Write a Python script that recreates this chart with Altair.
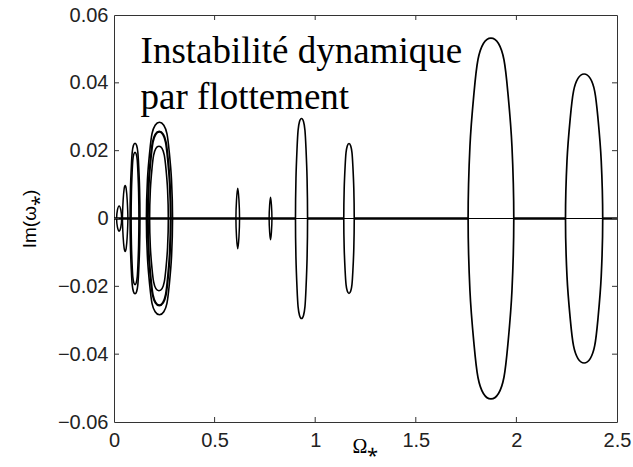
import altair as alt
import pandas as pd

# Upper branch of each instability loop: Omega* values and Im(omega*) values.
# The lower branch is the complex-conjugate mirror image (Im -> -Im).
loop_ids = ["g", "h", "i1", "i2", "j1", "j2", "j3", "e", "f", "c", "d", "a", "b"]
loop_om = [
    [0.013, 0.017, 0.0255, 0.034, 0.038],
    [0.042, 0.0455, 0.0505, 0.0555, 0.0605, 0.0655, 0.069],
    [0.080, 0.0820, 0.0864, 0.0905, 0.0964, 0.1045, 0.1126, 0.1185, 0.1226, 0.1270, 0.129],
    [0.085, 0.0866, 0.0901, 0.0934, 0.0981, 0.1045, 0.1109, 0.1156, 0.1189, 0.1224, 0.124],
    [0.161, 0.1662, 0.1779, 0.1889, 0.2045, 0.226, 0.2475, 0.2631, 0.2741, 0.2858, 0.291],
    [0.168, 0.1726, 0.1828, 0.1925, 0.2062, 0.225, 0.2438, 0.2575, 0.2672, 0.2774, 0.282],
    [0.177, 0.1807, 0.1891, 0.1970, 0.2082, 0.2235, 0.2388, 0.2499, 0.2579, 0.2663, 0.270],
    [0.606, 0.609, 0.615, 0.621, 0.624],
    [0.771, 0.7735, 0.778, 0.7825, 0.785],
    [0.902, 0.9044, 0.9098, 0.9149, 0.9221, 0.932, 0.9419, 0.9491, 0.9542, 0.9596, 0.962],
    [1.142, 1.1441, 1.1488, 1.1532, 1.1594, 1.168, 1.1766, 1.1828, 1.1872, 1.1919, 1.194],
    [1.760, 1.7691, 1.7895, 1.8088, 1.8360, 1.8735, 1.9110, 1.9382, 1.9575, 1.9779, 1.987],
    [2.244, 2.2514, 2.2680, 2.2838, 2.3060, 2.3365, 2.3670, 2.3892, 2.4050, 2.4216, 2.429],
]
loop_im = [
    [0, 0.0025, 0.0037, 0.0025, 0],
    [0, 0.0055, 0.0088, 0.0097, 0.0088, 0.0055, 0],
    [0, 0.0089, 0.0155, 0.0195, 0.0215, 0.0222, 0.0215, 0.0195, 0.0155, 0.0089, 0],
    [0, 0.0078, 0.0137, 0.0172, 0.0189, 0.0195, 0.0189, 0.0172, 0.0137, 0.0078, 0],
    [0, 0.0114, 0.0199, 0.0250, 0.0275, 0.0284, 0.0275, 0.0250, 0.0199, 0.0114, 0],
    [0, 0.0102, 0.0179, 0.0225, 0.0248, 0.0256, 0.0248, 0.0225, 0.0179, 0.0102, 0],
    [0, 0.0085, 0.0149, 0.0187, 0.0207, 0.0213, 0.0207, 0.0187, 0.0149, 0.0085, 0],
    [0, 0.0055, 0.0089, 0.0055, 0],
    [0, 0.0040, 0.0063, 0.0040, 0],
    [0, 0.0118, 0.0207, 0.0260, 0.0286, 0.0295, 0.0286, 0.0260, 0.0207, 0.0118, 0],
    [0, 0.0088, 0.0155, 0.0194, 0.0214, 0.0221, 0.0214, 0.0194, 0.0155, 0.0088, 0],
    [0, 0.0213, 0.0372, 0.0468, 0.0516, 0.0532, 0.0516, 0.0468, 0.0372, 0.0213, 0],
    [0, 0.0170, 0.0298, 0.0375, 0.0413, 0.0426, 0.0413, 0.0375, 0.0298, 0.0170, 0],
]
loop_width = [1.5, 1.5, 1.6, 1.6, 1.6, 2.2, 1.6, 1.5, 1.5, 1.6, 1.6, 1.7, 1.7]

# Real axis: stable branches overlap outside the large loops (drawn heavier)
stable_start = [0.0, 0.962, 1.194, 1.987, 2.429]
stable_end = [0.902, 1.142, 1.760, 2.244, 2.5]

x_ticks = [0.5, 1.0, 1.5, 2.0]
y_ticks = [-0.04, -0.02, 0.0, 0.02, 0.04]

annot_lines = ["Instabilité dynamique", "par flottement"]
annot_om = [0.132, 0.132]
annot_im = [0.0458, 0.0323]

rows = []
for lid, oms, ims, w in zip(loop_ids, loop_om, loop_im, loop_width):
    k = 0
    for o, v in zip(oms, ims):
        rows.append({"loop": lid, "k": k, "om": o, "im": v, "w": w})
        k += 1
    for o, v in zip(oms[-2:0:-1], ims[-2:0:-1]):
        rows.append({"loop": lid, "k": k, "om": o, "im": -v, "w": w})
        k += 1
loops_df = pd.DataFrame(rows)

W, H = 503, 407
FRAME = "#333333"

xs = alt.Scale(domain=[0, 2.5], nice=False, zero=False)
ys = alt.Scale(domain=[-0.06, 0.06], nice=False, zero=False)
x_axis = alt.Axis(
    values=[0, 0.5, 1, 1.5, 2, 2.5], format="~g", title="Ω⁎",
    titleFont="Liberation Serif", titleFontSize=20, titleFontWeight="normal",
    titleX=251, titleY=30, titleBaseline="alphabetic", titleColor="black",
    labelBaseline="alphabetic", labelPadding=24, labelFlush=False,
)
y_axis = alt.Axis(
    values=[-0.06, -0.04, -0.02, 0, 0.02, 0.04, 0.06], format="~g", title="Im(ω⁎)",
    titleFont="Liberation Sans", titleFontSize=19, titleFontWeight="normal",
    titleX=-85, titleY=203.5, titleBaseline="middle", titleAngle=270,
    titleColor="black", labelPadding=6, labelFlush=False,
)
X = alt.X("om:Q", scale=xs, axis=x_axis)
Y = alt.Y("im:Q", scale=ys, axis=y_axis)

curves = alt.Chart(loops_df).mark_line(
    color="black", interpolate="cardinal-closed", tension=0.0
).encode(
    x=X, y=Y, detail="loop:N", order=alt.Order("k:Q"),
    strokeWidth=alt.StrokeWidth("w:Q", scale=None, legend=None),
)

axis_line = alt.Chart(pd.DataFrame({"om": [0.0], "om2": [2.5], "im": [0.0]})).mark_rule(
    color="black", strokeWidth=1.1
).encode(x=X, x2="om2:Q", y=Y)

stable = alt.Chart(pd.DataFrame({"om": stable_start, "om2": stable_end, "im": [0.0] * len(stable_start)})).mark_rule(
    color="black", strokeWidth=2.4
).encode(x=X, x2="om2:Q", y=Y)

xt = pd.DataFrame({"om": x_ticks})
yt = pd.DataFrame({"im": y_ticks})
tick_bottom = alt.Chart(xt).mark_rule(color=FRAME, strokeWidth=1).encode(
    x=X, y=alt.value(H), y2=alt.value(H - 5))
tick_top = alt.Chart(xt).mark_rule(color=FRAME, strokeWidth=1).encode(
    x=X, y=alt.value(0), y2=alt.value(5))
tick_left = alt.Chart(yt).mark_rule(color=FRAME, strokeWidth=1).encode(
    y=Y, x=alt.value(0), x2=alt.value(5))
tick_right = alt.Chart(yt).mark_rule(color=FRAME, strokeWidth=1).encode(
    y=Y, x=alt.value(W - 5), x2=alt.value(W))

annot = alt.Chart(pd.DataFrame({"txt": annot_lines, "om": annot_om, "im": annot_im})).mark_text(
    font="Liberation Serif", fontSize=37, align="left", baseline="alphabetic", color="black"
).encode(x=X, y=Y, text="txt:N")

chart = alt.layer(
    axis_line, stable, curves, tick_bottom, tick_top, tick_left, tick_right, annot
).properties(
    width=W, height=H,
    padding={"left": 114, "top": 15, "right": 16, "bottom": 45},
    autosize=alt.AutoSizeParams(type="none"),
    background="white",
).configure_view(
    stroke=FRAME, strokeWidth=1
).configure_axis(
    grid=False, domain=False, ticks=False,
    labelFont="Liberation Sans", labelFontSize=20, labelColor="#222222",
)

chart.save("out.html", embed_options={"renderer": "svg", "actions": False})
